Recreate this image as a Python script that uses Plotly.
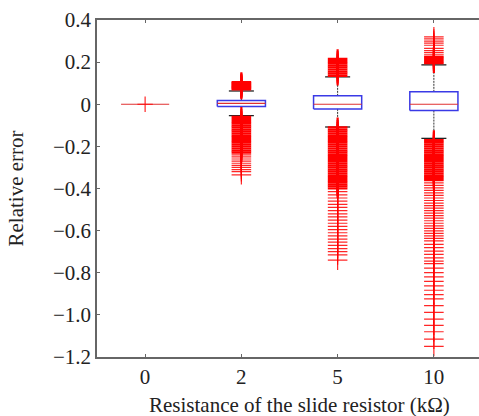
import plotly.graph_objects as go

# resistance categories and their box statistics (relative error)
categories = ["0", "2", "5", "10"]
positions = [1, 2, 3, 4]
q1 = [0.0, -0.011, -0.022, -0.030]
median = [0.0, 0.004, 0.0, 0.0]
q3 = [0.0, 0.018, 0.040, 0.059]
whisker_low = [0.0, -0.054, -0.108, -0.162]
whisker_high = [0.0, 0.063, 0.130, 0.187]

# outliers, dense blocks and sparse tails
dense_outliers = {
    "2": [0.07, 0.075, 0.08, 0.085, 0.09, 0.095, 0.10, 0.105,
          -0.06, -0.07, -0.08, -0.09, -0.10, -0.11, -0.12, -0.13, -0.14,
          -0.15, -0.16, -0.17, -0.18, -0.19, -0.20, -0.21, -0.22, -0.23],
    "5": [0.135, 0.145, 0.155, 0.165, 0.175, 0.185, 0.195, 0.205, 0.215,
          -0.11, -0.12, -0.13, -0.14, -0.15, -0.16, -0.17, -0.18, -0.19,
          -0.20, -0.21, -0.22, -0.23, -0.24, -0.25, -0.26, -0.27, -0.28,
          -0.29, -0.30, -0.31, -0.32, -0.33, -0.34, -0.35, -0.36, -0.37,
          -0.38, -0.39, -0.40],
    "10": [0.195, 0.205, 0.215, 0.225,
           -0.17, -0.18, -0.19, -0.20, -0.21, -0.22, -0.23, -0.24, -0.25,
           -0.26, -0.27, -0.28, -0.29, -0.30, -0.31, -0.32, -0.33, -0.34,
           -0.35, -0.36],
}
sparse_outliers = {
    "0": [0.0],
    "2": [-0.24, -0.25, -0.26, -0.27, -0.28, -0.29, -0.30, -0.31, -0.32, -0.335],
    "5": [-0.415, -0.43, -0.445, -0.46, -0.475, -0.49, -0.505, -0.52, -0.535,
          -0.55, -0.565, -0.58, -0.595, -0.61, -0.625, -0.64, -0.655, -0.67,
          -0.685, -0.70, -0.715, -0.74],
    "10": [0.235, 0.245, 0.255, 0.265, 0.28, 0.29, 0.30, 0.31, 0.32,
           -0.373, -0.385, -0.397, -0.409, -0.421, -0.433, -0.445, -0.457,
           -0.469, -0.481, -0.493, -0.505, -0.517, -0.529, -0.541, -0.553,
           -0.565, -0.577, -0.589, -0.601, -0.613, -0.625, -0.637, -0.649,
           -0.665, -0.681, -0.697, -0.713, -0.729, -0.745, -0.757,
           -0.778, -0.799, -0.820, -0.841, -0.862, -0.883, -0.904, -0.924,
           -0.956, -0.988, -1.02, -1.05, -1.08, -1.115, -1.15],
}

y_ticks = [0.4, 0.2, 0, -0.2, -0.4, -0.6, -0.8, -1.0, -1.2]
y_tick_text = ["0.4", "0.2", "0", "\u22120.2", "\u22120.4", "\u22120.6", "\u22120.8", "\u22121.0", "\u22121.2"]

BOX_HALF = 0.25
CAP_HALF = 0.13
FONT = "Liberation Serif"
TEXT = "#222222"

fig = go.Figure()

for i, cat in enumerate(categories):
    x = positions[i]
    # whiskers (dashed)
    if whisker_high[i] != q3[i]:
        fig.add_trace(go.Scatter(x=[x, x], y=[q3[i], whisker_high[i]], mode="lines",
                                 line=dict(color="#333333", width=1, dash="2px,1px")))
        fig.add_trace(go.Scatter(x=[x, x], y=[q1[i], whisker_low[i]], mode="lines",
                                 line=dict(color="#333333", width=1, dash="2px,1px")))
        # caps
        for w in [whisker_high[i], whisker_low[i]]:
            fig.add_trace(go.Scatter(x=[x - CAP_HALF, x + CAP_HALF], y=[w, w], mode="lines",
                                     line=dict(color="#222222", width=1.3)))
        # box
        fig.add_trace(go.Scatter(
            x=[x - BOX_HALF, x + BOX_HALF, x + BOX_HALF, x - BOX_HALF, x - BOX_HALF],
            y=[q1[i], q1[i], q3[i], q3[i], q1[i]], mode="lines",
            line=dict(color="#3a3ae6", width=1.5)))
    # median
    fig.add_trace(go.Scatter(x=[x - BOX_HALF, x + BOX_HALF], y=[median[i], median[i]], mode="lines",
                             line=dict(color="#e03030", width=1.2)))
    # outliers
    if cat in dense_outliers:
        vals = dense_outliers[cat]
        fig.add_trace(go.Scatter(x=[x] * len(vals), y=vals, mode="markers",
                                 marker=dict(symbol="cross-thin", size=14,
                                             line=dict(color="#ff0000", width=2.2))))
    vals = sparse_outliers[cat]
    fig.add_trace(go.Scatter(x=[x] * len(vals), y=vals, mode="markers",
                             marker=dict(symbol="cross-thin", size=14 if cat != "0" else 11,
                                         line=dict(color="rgba(255,0,0,0.85)", width=1.2))))

fig.update_layout(
    width=479, height=416,
    margin=dict(l=97, r=0, t=20, b=59),
    plot_bgcolor="white", paper_bgcolor="white",
    showlegend=False,
    font=dict(family=FONT, size=21, color=TEXT),
    annotations=[
        dict(text="Relative error", xref="paper", yref="paper", x=-82 / 382, y=0.5,
             textangle=-90, showarrow=False, xanchor="center", yanchor="middle",
             font=dict(family=FONT, size=21, color=TEXT)),
        dict(text="Resistance of the slide resistor (k\u03a9)", xref="paper", yref="paper",
             x=(299 - 97) / 382, y=-(405 - 357) / 337, showarrow=False,
             xanchor="center", yanchor="middle",
             font=dict(family=FONT, size=21, color=TEXT)),
    ],
)
fig.update_xaxes(
    range=[0.5, 4.5 - 3 / 96.3], tickvals=positions, ticktext=categories,
    tickfont=dict(family=FONT, size=21, color=TEXT),
    showgrid=False, zeroline=False, showline=True, linecolor="#666666", linewidth=1.5,
    mirror="ticks", ticks="inside", ticklen=3, tickcolor="#666666",
)
fig.update_yaxes(
    range=[-1.2, 0.4], tickvals=y_ticks, ticktext=y_tick_text,
    tickfont=dict(family=FONT, size=21, color=TEXT),
    showgrid=False, zeroline=False, showline=True, linecolor="#666666", linewidth=1.5,
    ticks="inside", ticklen=3, tickcolor="#666666",
)

fig.write_html("out.html", config={"displayModeBar": False},
               post_script="document.body.style.margin='0';")
